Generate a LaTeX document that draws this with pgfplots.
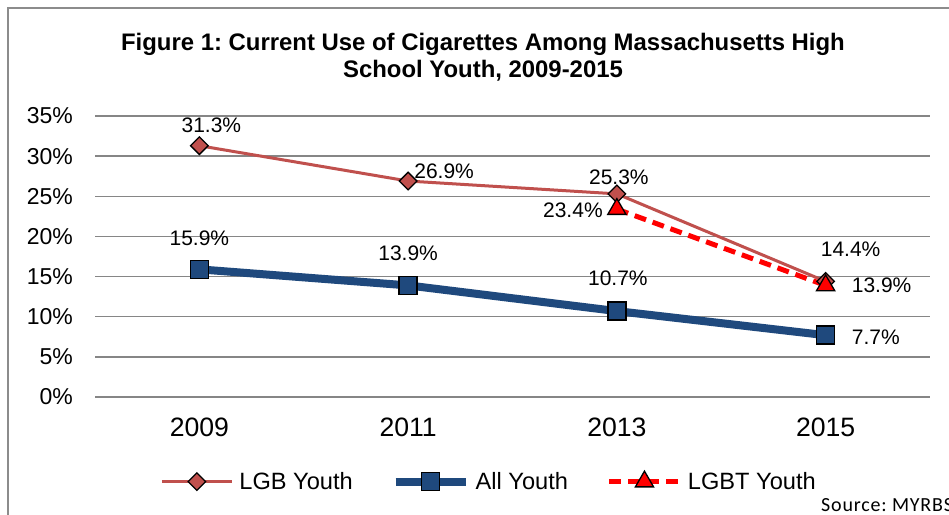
\documentclass[border=0pt]{standalone}
\usepackage{pgfplots}
\pgfplotsset{compat=1.18}
\usepackage{fontspec}
\setmainfont{Liberation Sans}
\newfontfamily\carlito[LetterSpace=4]{Carlito}
\definecolor{lgbred}{HTML}{C0504D}
\definecolor{allblue}{HTML}{1F497D}
\definecolor{gridgray}{HTML}{868686}
\definecolor{framegray}{HTML}{8C8C8C}
\tikzset{lbl/.style={font=\fontsize{21bp}{21bp}\selectfont, inner sep=0pt}}
\frenchspacing
\begin{document}
\begin{tikzpicture}
\useasboundingbox (0,0) rectangle (949bp,-515bp);
\fill[white] (0,0) rectangle (949bp,-515bp);
\draw[framegray, line width=1.5bp] (8bp,-530bp) -- (8bp,-8bp) -- (970bp,-8bp);
\node[align=center, font=\bfseries\fontsize{23.9bp}{27bp}\selectfont] at (483bp,-57.5bp) {Figure 1: Current Use of Cigarettes Among Massachusetts High\\School Youth, 2009-2015};
\node[anchor=base west, inner sep=0pt, font=\carlito\fontsize{20bp}{20bp}\selectfont] at (821bp,-511.7bp) {Source: MYRBS};
\begin{axis}[
  at={(95bp,-397bp)}, anchor=south west,
  scale only axis, width=835bp, height=281bp,
  xmin=-0.5, xmax=3.5, ymin=0, ymax=35,
  xtick={0,1,2,3}, xticklabels={2009,2011,2013,2015},
  ytick={0,5,...,35},
  yticklabel={\pgfmathprintnumber{\tick}\%},
  /pgf/number format/assume math mode=true,
  axis line style={draw=none},
  major tick length=0pt,
  ymajorgrids, grid style={gridgray, line width=1.3bp},
  yticklabel style={font=\fontsize{23bp}{23bp}\selectfont, inner sep=0pt, anchor=east, xshift=-22bp},
  xticklabel style={font=\fontsize{26.6bp}{26.6bp}\selectfont, inner sep=0pt, anchor=north, yshift=-21bp},
  clip=false,
  legend columns=3,
  legend style={draw=none, fill=none, at={(0.4707,-0.299)}, anchor=center,
    font=\fontsize{23.6bp}{23.6bp}\selectfont, nodes={inner sep=0pt},
    /tikz/every odd column/.append style={column sep=6bp},
    /tikz/every even column/.append style={column sep=39bp}},
  legend image code/.code={\draw[mark repeat=2, mark phase=2, #1] plot coordinates {(0bp,0bp) (35bp,0bp) (70bp,0bp)};},
]
\addplot[lgbred, line width=3bp, mark=square*, mark size=6.2bp,
  mark options={rotate=45, fill=lgbred, draw=black, line width=1.3bp, solid}]
  coordinates {(0,31.3) (1,26.9) (2,25.3) (3,14.4)};
\addlegendentry{LGB Youth}
\addplot[allblue, line width=8bp, mark=square*, mark size=9bp,
  mark options={fill=allblue, draw=black, line width=1.5bp, solid}]
  coordinates {(0,15.9) (1,13.9) (2,10.7) (3,7.7)};
\addlegendentry{All Youth}
\addplot[red, line width=5bp, dash pattern=on 12bp off 7bp, mark=triangle*, mark size=10.5bp,
  mark options={fill=red, draw=black, line width=1.3bp, solid}]
  coordinates {(2,23.4) (3,13.9)};
\addlegendentry{LGBT Youth}
\node[lbl, xshift=12bp, yshift=20bp] at (axis cs:0,31.3) {31.3\%};
\node[lbl, xshift=36bp, yshift=10bp] at (axis cs:1,26.9) {26.9\%};
\node[lbl, xshift=2bp, yshift=17bp] at (axis cs:2,25.3) {25.3\%};
\node[lbl, anchor=east, xshift=-14bp, yshift=-1bp] at (axis cs:2,23.4) {23.4\%};
\node[lbl, xshift=25bp, yshift=32bp] at (axis cs:3,14.4) {14.4\%};
\node[lbl, anchor=west, xshift=26bp] at (axis cs:3,13.9) {13.9\%};
\node[lbl, anchor=west, xshift=26bp, yshift=-2.5bp] at (axis cs:3,7.7) {7.7\%};
\node[lbl, yshift=31bp] at (axis cs:0,15.9) {15.9\%};
\node[lbl, yshift=32bp] at (axis cs:1,13.9) {13.9\%};
\node[lbl, xshift=1bp, yshift=33bp] at (axis cs:2,10.7) {10.7\%};
\end{axis}
\end{tikzpicture}
\end{document}
